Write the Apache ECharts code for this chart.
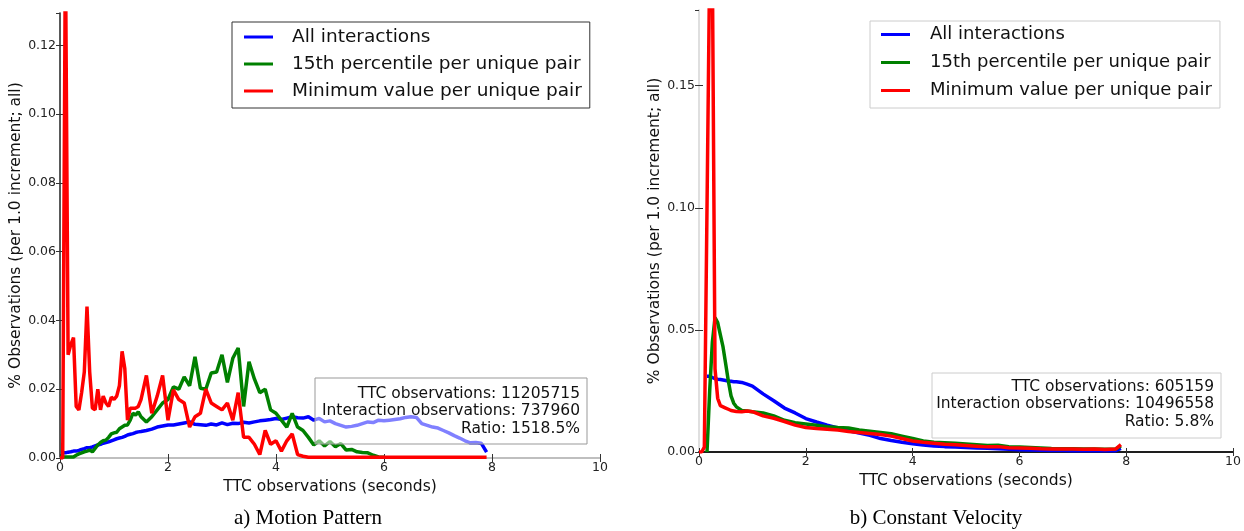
<!DOCTYPE html>
<html>
<head>
<meta charset="utf-8">
<script src="https://cdn.jsdelivr.net/npm/echarts@6/dist/echarts.min.js"></script>
<style>
  html, body { margin: 0; padding: 0; background: #fff; }
  #main { width: 1244px; height: 531px; }
</style>
</head>
<body>
<div id="main"></div>
<script>
// a) Motion Pattern
const ttcA = [0, 0.05, 0.1, 0.15, 0.2, 0.25, 0.3, 0.35, 0.4, 0.45, 0.5, 0.55, 0.6, 0.65, 0.7, 0.75,
  0.8, 0.85, 0.9, 0.95, 1.0, 1.05, 1.1, 1.15, 1.2, 1.25, 1.3, 1.35, 1.4, 1.45, 1.5,
  1.6, 1.7, 1.8, 1.9, 2.0, 2.1, 2.2, 2.3, 2.4, 2.5, 2.6, 2.7, 2.8, 2.9, 3.0, 3.1, 3.2, 3.3, 3.4,
  3.5, 3.6, 3.7, 3.8, 3.9, 4.0, 4.1, 4.2, 4.3, 4.4, 4.5, 4.6, 4.7, 4.8, 4.9, 5.0, 5.1, 5.2, 5.3,
  5.4, 5.5, 5.6, 5.7, 5.8, 5.9, 6.0, 6.1, 6.2, 6.3, 6.4, 6.5, 6.6, 6.7, 6.8, 6.9, 7.0, 7.1, 7.2,
  7.3, 7.4, 7.5, 7.6, 7.7, 7.8, 7.9];

const allA = [null, 0.0015, 0.0015, 0.0017, 0.0018, 0.002, 0.002, 0.0022, 0.0025, 0.0027, 0.003, 0.003,
  0.0032, 0.0035, 0.0038, 0.004, 0.0043, 0.0045, 0.0047, 0.005, 0.0053, 0.0056, 0.0058, 0.006, 0.0063,
  0.0067, 0.0069, 0.0071, 0.0074, 0.0076, 0.0077,
  0.008, 0.0084, 0.009, 0.0093, 0.0096, 0.0096, 0.0099, 0.0102, 0.0105, 0.0098, 0.0097, 0.0095, 0.0099,
  0.0096, 0.0102, 0.0097, 0.0101, 0.01, 0.0104, 0.0102, 0.0105, 0.0108, 0.011, 0.0112, 0.0115, 0.0112,
  0.0116, 0.012, 0.0117, 0.0116, 0.012, 0.011, 0.0115, 0.0105, 0.0108, 0.01, 0.0095, 0.009, 0.0092,
  0.0095, 0.01, 0.0105, 0.0103, 0.011, 0.0108, 0.011, 0.0112, 0.0114, 0.0118, 0.012, 0.0118, 0.01,
  0.0095, 0.009, 0.0087, 0.008, 0.0073, 0.0065, 0.0058, 0.005, 0.0044, 0.0045, 0.0043, 0.0017];

const p15A = [0.0003, 0.0003, 0.0003, 0.0003, 0.0003, 0.0003, 0.0008, 0.0012, 0.0015, 0.0018, 0.002, 0.0023,
  0.0018, 0.0028, 0.0038, 0.0045, 0.005, 0.0052, 0.006, 0.007, 0.0073, 0.0075, 0.0085, 0.009, 0.0095,
  0.0096, 0.011, 0.013, 0.0125, 0.0134, 0.012,
  0.0105, 0.012, 0.014, 0.016, 0.017, 0.0207, 0.02, 0.0236, 0.021, 0.0294, 0.0203, 0.02, 0.0247, 0.025,
  0.03, 0.022, 0.029, 0.032, 0.015, 0.028, 0.023, 0.019, 0.02, 0.014, 0.013, 0.011, 0.009, 0.013, 0.009,
  0.008, 0.006, 0.0038, 0.005, 0.0035, 0.0048, 0.0033, 0.0042, 0.0023, 0.0025, 0.0018, 0.0016, 0.0015,
  0.0008, 0.0003, 0.0002, null, null, null, null, null, null, null, null, null, null, null, null, null,
  null, null, null, null, null, null];

const minA = [0, 0, 0.15, 0.03, 0.033, 0.035, 0.015, 0.014, 0.019, 0.025, 0.044, 0.025, 0.0145, 0.014,
  0.02, 0.014, 0.018, 0.016, 0.015, 0.0177, 0.017, 0.018, 0.021, 0.031, 0.026, 0.011, 0.0145, 0.0145,
  0.0145, 0.015, 0.017,
  0.024, 0.013, 0.018, 0.024, 0.011, 0.0198, 0.017, 0.016, 0.009, 0.012, 0.013, 0.02, 0.016, 0.015,
  0.014, 0.016, 0.011, 0.019, 0.006, 0.006, 0.004, 0.001, 0.008, 0.004, 0.005, 0.002, 0.005, 0.007,
  0.001, 0.0005, 0.0002, 0.0002, 0.0002, 0.0002, 0.0002, 0.0002, 0.0002, 0.0002, 0.0002, 0.0002, 0.0002,
  0.0002, 0.0002, 0.0002, 0.0002, 0.0002, 0.0002, 0.0002, 0.0002, 0.0002, 0.0002, 0.0002, 0.0002,
  0.0002, 0.0002, 0.0002, 0.0002, 0.0002, 0.0002, 0.0002, 0.0002, 0.0002, 0.0002, 0.0002];

// b) Constant Velocity
const ttcB = [0, 0.05, 0.1, 0.15, 0.2, 0.25, 0.3, 0.35, 0.4, 0.45, 0.5, 0.55, 0.6, 0.65, 0.7, 0.8, 0.9, 1.0,
  1.2, 1.4, 1.6, 1.8, 2.0, 2.2, 2.4, 2.6, 2.8, 3.0, 3.2, 3.4, 3.6, 3.8, 4.0, 4.2, 4.4, 4.6, 4.8, 5.0,
  5.2, 5.4, 5.6, 5.8, 6.0, 6.2, 6.4, 6.6, 6.8, 7.0, 7.2, 7.4, 7.6, 7.8, 7.9];

const allB = [null, null, null, 0.031, 0.031, 0.0305, 0.03, 0.0298, 0.0297, 0.0295, 0.0293, 0.029, 0.029,
  0.0288, 0.0288, 0.0285, 0.0278, 0.027,
  0.0238, 0.021, 0.018, 0.016, 0.0137, 0.0123, 0.011, 0.0099, 0.0087, 0.0078, 0.0068, 0.0055, 0.0047,
  0.004, 0.0034, 0.0029, 0.0025, 0.0022, 0.002, 0.0018, 0.0016, 0.0015, 0.0013, 0.0011, 0.0009, 0.0008,
  0.0007, 0.0006, 0.0006, 0.0005, 0.0005, 0.0005, 0.0005, 0.0005, 0.0015];

const p15B = [null, null, null, 0, 0.025, 0.045, 0.055, 0.053, 0.048, 0.043, 0.036, 0.029, 0.023, 0.02,
  0.0185, 0.017, 0.0168, 0.0165,
  0.016, 0.0148, 0.013, 0.012, 0.0115, 0.011, 0.0103, 0.01, 0.0098, 0.009, 0.0085, 0.008, 0.0075, 0.0065,
  0.0055, 0.0045, 0.004, 0.0038, 0.0036, 0.0033, 0.003, 0.0027, 0.0028, 0.0022, 0.002, 0.0018, 0.0016,
  0.0014, 0.0013, 0.0013, 0.0012, 0.0012, 0.0011, 0.0012, 0.0025];

const minB = [0, 0, 0.002, 0.1, 0.2, 0.2, 0.034, 0.022, 0.019, 0.0185, 0.018, 0.0175, 0.017, 0.0168, 0.0166,
  0.0165, 0.0168, 0.0165,
  0.0148, 0.0138, 0.0125, 0.011, 0.01, 0.0096, 0.0093, 0.009, 0.0084, 0.008, 0.0076, 0.0072, 0.0065,
  0.0055, 0.0045, 0.004, 0.0036, 0.0032, 0.003, 0.0027, 0.0024, 0.0021, 0.0022, 0.0017, 0.0016, 0.0015,
  0.0013, 0.0012, 0.0012, 0.0012, 0.0011, 0.0012, 0.001, 0.0012, 0.003];

const seriesNames = ['All interactions', '15th percentile per unique pair', 'Minimum value per unique pair'];
const colors = ['#0000ff', '#008000', '#ff0000'];

const FONT = 'DejaVu Sans';

function pairs(xs, ys) {
  return xs.map((x, i) => [x, ys[i]]);
}

function lineSeries(name, color, xs, ys, xIdx, yIdx) {
  return {
    name: name,
    type: 'line',
    xAxisIndex: xIdx,
    yAxisIndex: yIdx,
    data: pairs(xs, ys),
    showSymbol: false,
    symbol: 'none',
    clip: true,
    lineStyle: { color: color, width: 3.5 },
    itemStyle: { color: color },
    animation: false
  };
}

function yFormatter(step) {
  return function (v) {
    const k = v / step;
    return Math.abs(k - Math.round(k)) < 1e-6 ? v.toFixed(2) : '';
  };
}

const tickStyle = { fontFamily: FONT, fontSize: 12.5, color: '#222' };
const titleStyle = { fontFamily: FONT, fontSize: 15.5, color: '#111' };

let myChart = echarts.init(document.getElementById('main'));
let option = {
  backgroundColor: '#fff',
  animation: false,
  grid: [
    { left: 60, top: 13, width: 540, height: 445 },
    { left: 699, top: 10, width: 535, height: 442 }
  ],
  xAxis: [
    {
      gridIndex: 0, type: 'value', min: 0, max: 10, interval: 2, position: 'bottom',
      name: 'TTC observations (seconds)', nameLocation: 'middle', nameGap: 16,
      nameTextStyle: titleStyle,
      axisLine: { lineStyle: { color: '#777', width: 1.5 } },
      axisTick: { inside: true, length: 4, lineStyle: { color: '#333' } },
      axisLabel: Object.assign({ margin: 3, formatter: v => String(v) }, tickStyle),
      splitLine: { show: false }
    },
    {
      gridIndex: 0, type: 'value', min: 0, max: 10, interval: 2, position: 'top',
      axisLine: { lineStyle: { color: '#ccc', width: 1.5 } },
      axisTick: { inside: true, length: 4, lineStyle: { color: '#333' } },
      axisLabel: { show: false }, splitLine: { show: false }
    },
    {
      gridIndex: 1, type: 'value', min: 0, max: 10, interval: 2, position: 'bottom',
      name: 'TTC observations (seconds)', nameLocation: 'middle', nameGap: 17,
      nameTextStyle: titleStyle,
      axisLine: { lineStyle: { color: '#111', width: 1.5 } },
      axisTick: { inside: true, length: 4, lineStyle: { color: '#333' } },
      axisLabel: Object.assign({ margin: 3, formatter: v => String(v) }, tickStyle),
      splitLine: { show: false }
    },
    {
      gridIndex: 1, type: 'value', min: 0, max: 10, interval: 2, position: 'top',
      axisLine: { lineStyle: { color: '#111', width: 1.5 } },
      axisTick: { inside: true, length: 4, lineStyle: { color: '#333' } },
      axisLabel: { show: false }, splitLine: { show: false }
    }
  ],
  yAxis: [
    {
      gridIndex: 0, type: 'value', min: 0, max: 0.1294, interval: 0.02, position: 'left',
      name: '% Observations (per 1.0 increment; all)', nameLocation: 'middle', nameGap: 34,
      nameTextStyle: titleStyle,
      axisLine: { lineStyle: { color: '#bbb', width: 1.5 } },
      axisTick: { inside: true, length: 4, lineStyle: { color: '#333' } },
      axisLabel: Object.assign({ margin: 4, showMaxLabel: false, formatter: yFormatter(0.02) }, tickStyle),
      splitLine: { show: false }
    },
    {
      gridIndex: 0, type: 'value', min: 0, max: 0.1294, interval: 0.02, position: 'right',
      axisLine: { lineStyle: { color: '#333', width: 1.5 } },
      axisTick: { inside: true, length: 4, lineStyle: { color: '#333' } },
      axisLabel: { show: false }, splitLine: { show: false }
    },
    {
      gridIndex: 1, type: 'value', min: 0, max: 0.181, interval: 0.05, position: 'left',
      name: '% Observations (per 1.0 increment; all)', nameLocation: 'middle', nameGap: 36,
      nameTextStyle: titleStyle,
      axisLine: { lineStyle: { color: '#ddd', width: 1.5 } },
      axisTick: { inside: true, length: 4, lineStyle: { color: '#333' } },
      axisLabel: Object.assign({ margin: 4, showMaxLabel: false, formatter: yFormatter(0.05) }, tickStyle),
      splitLine: { show: false }
    },
    {
      gridIndex: 1, type: 'value', min: 0, max: 0.181, interval: 0.05, position: 'right',
      axisLine: { lineStyle: { color: '#ddd', width: 1.5 } },
      axisTick: { inside: true, length: 4, lineStyle: { color: '#333' } },
      axisLabel: { show: false }, splitLine: { show: false }
    }
  ],
  legend: [
    {
      left: 232, top: 22, orient: 'vertical', data: seriesNames,
      icon: 'rect', itemWidth: 29, itemHeight: 3, itemGap: 1,
      padding: [2, 8, 4, 12],
      borderColor: '#333', borderWidth: 1, backgroundColor: '#fff',
      selectedMode: false,
      textStyle: { fontFamily: FONT, fontSize: 18.5, color: '#111', lineHeight: 26, padding: [0, 0, 0, 14] }
    },
    {
      left: 870, top: 21, orient: 'vertical', data: seriesNames,
      icon: 'rect', itemWidth: 29, itemHeight: 3, itemGap: 1,
      padding: [0, 8, 4, 11],
      borderColor: '#ccc', borderWidth: 1, backgroundColor: '#fff',
      selectedMode: false,
      textStyle: { fontFamily: FONT, fontSize: 18, color: '#111', lineHeight: 27, padding: [0, 0, 0, 15] }
    }
  ],
  series: [
    lineSeries(seriesNames[0], colors[0], ttcA, allA, 0, 0),
    lineSeries(seriesNames[1], colors[1], ttcA, p15A, 0, 0),
    lineSeries(seriesNames[2], colors[2], ttcA, minA, 0, 0),
    lineSeries(seriesNames[0], colors[0], ttcB, allB, 2, 2),
    lineSeries(seriesNames[1], colors[1], ttcB, p15B, 2, 2),
    lineSeries(seriesNames[2], colors[2], ttcB, minB, 2, 2)
  ],
  graphic: [
    {
      type: 'rect', z: 100,
      shape: { x: 315, y: 378, width: 272, height: 66 },
      style: { fill: 'rgba(255,255,255,0.5)', stroke: '#999', lineWidth: 1 }
    },
    {
      type: 'text', z: 101, x: 580, y: 385,
      style: {
        text: 'TTC observations: 11205715\nInteraction observations: 737960\nRatio: 1518.5%',
        align: 'right', verticalAlign: 'top', fontFamily: FONT, fontSize: 15.5, lineHeight: 17.5, fill: '#111'
      }
    },
    {
      type: 'rect', z: 100,
      shape: { x: 932, y: 373, width: 289, height: 65 },
      style: { fill: 'rgba(255,255,255,0.5)', stroke: '#ccc', lineWidth: 1 }
    },
    {
      type: 'text', z: 101, x: 1214, y: 378,
      style: {
        text: 'TTC observations: 605159\nInteraction observations: 10496558\nRatio: 5.8%',
        align: 'right', verticalAlign: 'top', fontFamily: FONT, fontSize: 15.5, lineHeight: 17.5, fill: '#111'
      }
    },
    {
      type: 'text', x: 308, y: 518,
      style: {
        text: 'a) Motion Pattern', align: 'center', verticalAlign: 'middle',
        fontFamily: 'Liberation Serif', fontSize: 21, fill: '#000'
      }
    },
    {
      type: 'text', x: 936, y: 518,
      style: {
        text: 'b) Constant Velocity', align: 'center', verticalAlign: 'middle',
        fontFamily: 'Liberation Serif', fontSize: 21, fill: '#000'
      }
    }
  ]
};
myChart.setOption(option);
</script>
</body>
</html>
